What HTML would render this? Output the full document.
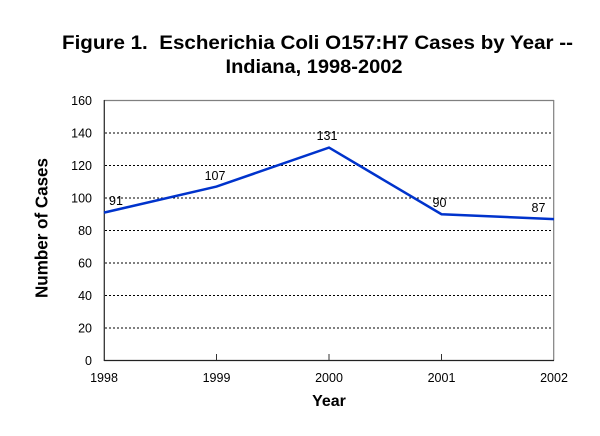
<!DOCTYPE html>
<html><head><meta charset="utf-8"><style>
html,body{margin:0;padding:0;background:#fff;}
svg{display:block;font-family:"Liberation Sans",Arial,sans-serif;}
</style></head><body>
<svg width="600" height="436" viewBox="0 0 600 436" xmlns="http://www.w3.org/2000/svg">
<rect width="600" height="436" fill="#fff"/>
<text x="317.5" y="49" font-size="19" font-weight="bold" text-anchor="middle" textLength="511" lengthAdjust="spacingAndGlyphs">Figure 1.&#160; Escherichia Coli O157:H7 Cases by Year --</text>
<text x="314" y="73" font-size="19" font-weight="bold" text-anchor="middle" textLength="177" lengthAdjust="spacingAndGlyphs">Indiana, 1998-2002</text>
<g stroke="#000" stroke-width="1" stroke-dasharray="2,2">
<line x1="105" y1="133" x2="553" y2="133"/>
<line x1="105" y1="165.5" x2="553" y2="165.5"/>
<line x1="105" y1="198" x2="553" y2="198"/>
<line x1="105" y1="230.5" x2="553" y2="230.5"/>
<line x1="105" y1="263" x2="553" y2="263"/>
<line x1="105" y1="295.5" x2="553" y2="295.5"/>
<line x1="105" y1="328" x2="553" y2="328"/>
</g>
<line x1="104" y1="100.5" x2="554" y2="100.5" stroke="#808080" stroke-width="1.2"/>
<line x1="553.7" y1="100" x2="553.7" y2="360.5" stroke="#808080" stroke-width="1.2"/>
<line x1="104.3" y1="100" x2="104.3" y2="361" stroke="#333" stroke-width="1.3"/>
<line x1="104" y1="360.5" x2="554" y2="360.5" stroke="#222" stroke-width="1.3"/>
<g stroke="#333" stroke-width="1">
<line x1="216.5" y1="354" x2="216.5" y2="360"/>
<line x1="329" y1="354" x2="329" y2="360"/>
<line x1="441.5" y1="354" x2="441.5" y2="360"/>
</g>
<polyline points="104,212.6 216.5,186.6 329,147.6 441.5,214.25 554,219.1" fill="none" stroke="#0033cc" stroke-width="2.5" stroke-linejoin="miter"/>
<g font-size="12.5" text-anchor="end" fill="#000">
<text x="92" y="105">160</text>
<text x="92" y="137.5">140</text>
<text x="92" y="170">120</text>
<text x="92" y="202.5">100</text>
<text x="92" y="235">80</text>
<text x="92" y="267.5">60</text>
<text x="92" y="300">40</text>
<text x="92" y="332.5">20</text>
<text x="92" y="365">0</text>
</g>
<g font-size="12.5" text-anchor="middle" fill="#000">
<text x="104" y="382">1998</text>
<text x="216.5" y="382">1999</text>
<text x="329" y="382">2000</text>
<text x="441.5" y="382">2001</text>
<text x="554" y="382">2002</text>
</g>
<g font-size="12.5" text-anchor="middle" fill="#000">
<text x="116" y="205">91</text>
<text x="215" y="180">107</text>
<text x="327" y="140">131</text>
<text x="439.5" y="207">90</text>
<text x="538.5" y="212">87</text>
</g>
<text x="329" y="406" font-size="16" font-weight="bold" text-anchor="middle">Year</text>
<text transform="translate(47.5,228) rotate(-90)" x="0" y="0" font-size="17.5" font-weight="bold" text-anchor="middle" textLength="140" lengthAdjust="spacingAndGlyphs">Number of Cases</text>
</svg>
</body></html>
